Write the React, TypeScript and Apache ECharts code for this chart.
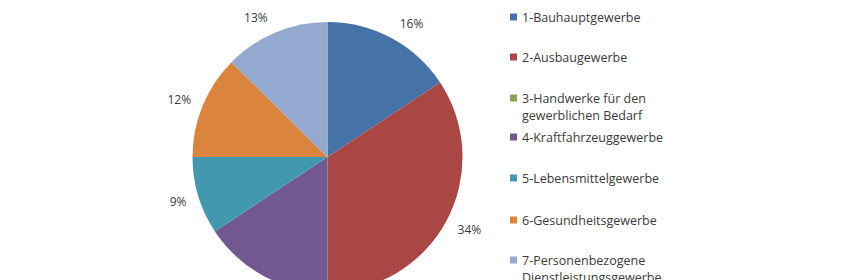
import React, { useEffect, useRef } from "react";
import * as echarts from "echarts";

const categories = [
  "1-Bauhauptgewerbe",
  "2-Ausbaugewerbe",
  "3-Handwerke für den gewerblichen Bedarf",
  "4-Kraftfahrzeuggewerbe",
  "5-Lebensmittelgewerbe",
  "6-Gesundheitsgewerbe",
  "7-Personenbezogene Dienstleistungsgewerbe",
];
const legendLabels = [
  "1-Bauhauptgewerbe",
  "2-Ausbaugewerbe",
  "3-Handwerke für den\ngewerblichen Bedarf",
  "4-Kraftfahrzeuggewerbe",
  "5-Lebensmittelgewerbe",
  "6-Gesundheitsgewerbe",
  "7-Personenbezogene\nDienstleistungsgewerbe",
];
const shares = [15.7, 34.3, 0, 15.7, 9.3, 12.4, 12.6];
const colors = ["#4572A7", "#AA4643", "#89A54E", "#71588F", "#4198AF", "#DB843D", "#93A9CF"];

const FONT = "'Open Sans', 'Noto Sans', sans-serif";
const TEXT = "#3a3a3a";
const LH = 17;

export default function App() {
  const ref = useRef<HTMLDivElement>(null);
  useEffect(() => {
    if (!ref.current) return;
    const chart = echarts.init(ref.current, undefined, { renderer: "svg" });
    const firstLineCenters = [17, 57, 98, 137, 178, 220, 260];
    const legends = categories.map((name, i) => {
      const multi = legendLabels[i].includes("\n");
      return {
        orient: "vertical",
        left: 510,
        top: firstLineCenters[i] - (multi ? 1.5 * LH : 0.5 * LH),
        data: [name],
        icon: "rect",
        itemWidth: 7,
        itemHeight: 7,
        padding: 0,
        selectedMode: false,
        formatter: () => (multi ? "\n" + legendLabels[i] : legendLabels[i]),
        textStyle: {
          fontFamily: FONT,
          fontSize: 12.5,
          color: TEXT,
          lineHeight: LH,
        },
      };
    });
    // Excel-style label placement: the label box sits beyond the rim,
    // so shift the text along the vertical component of the slice's mid-angle.
    const total = shares.reduce((a, b) => a + b, 0);
    let acc = 0;
    const labelDy = shares.map((v) => {
      const mid = ((acc + v / 2) / total) * 2 * Math.PI;
      acc += v;
      return -9 * Math.cos(mid) + (Math.cos(mid) < 0 ? 1 : 0);
    });
    chart.setOption({
      animation: false,
      color: colors,
      legend: legends,
      series: [
        {
          type: "pie",
          center: [327.5, 157],
          radius: 135,
          startAngle: 90,
          clockwise: true,
          avoidLabelOverlap: false,
          label: {
            show: true,
            position: "outside",
            fontFamily: FONT,
            fontSize: 12,
            color: TEXT,
            formatter: (p: any) => Math.round(p.percent) + "%",
          },
          labelLine: { show: false, length: 7, length2: 0 },
          labelLayout: (params: any) => ({ dy: labelDy[params.dataIndex] }),
          emphasis: { disabled: true },
          itemStyle: { borderWidth: 0 },
          data: categories.map((name, i) => ({
            name,
            value: shares[i],
            label: shares[i] === 0 || i === 3 ? { show: false } : undefined,
          })),
        },
      ],
    });
    return () => chart.dispose();
  }, []);
  return (
    <div
      ref={ref}
      style={{ position: "fixed", left: 0, top: 0, width: 860, height: 280, background: "#fff" }}
    />
  );
}
